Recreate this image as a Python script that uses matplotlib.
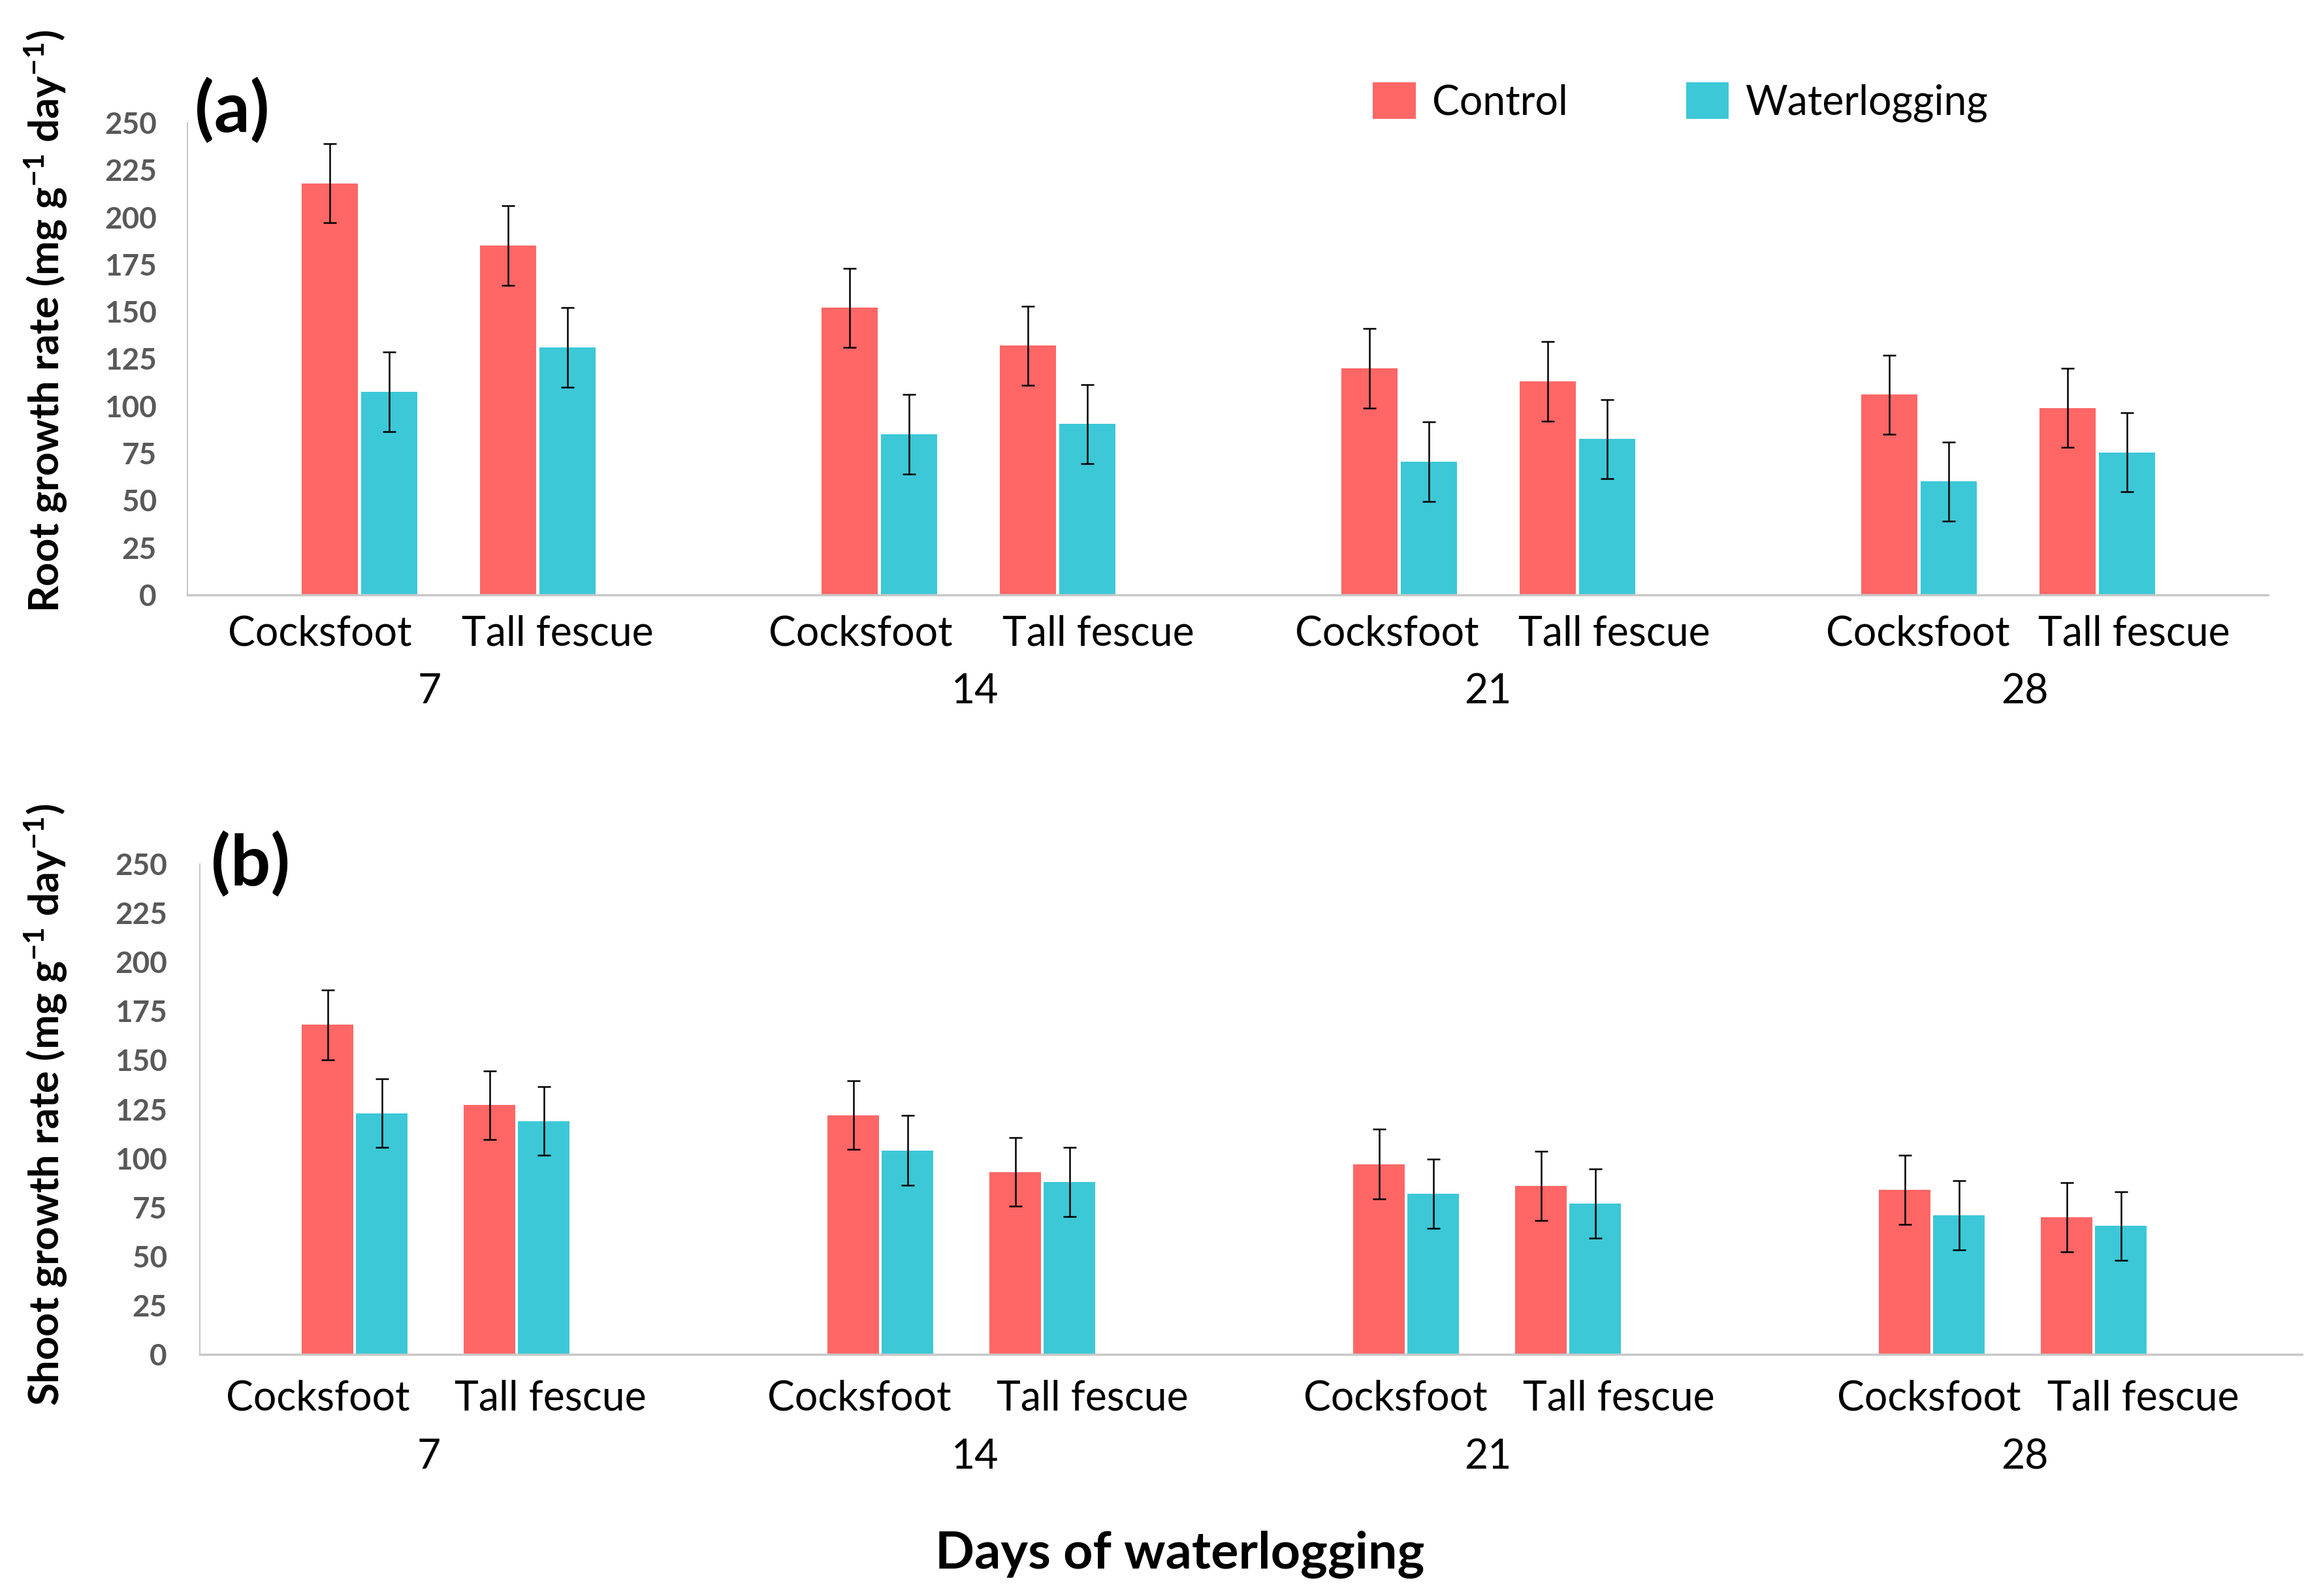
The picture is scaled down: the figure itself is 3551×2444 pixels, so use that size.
import matplotlib
matplotlib.use("Agg")
import matplotlib.pyplot as plt
import matplotlib.transforms as mtransforms
import numpy as np

# ---------------- data ----------------
days = ["7", "14", "21", "28"]
species = ["Cocksfoot", "Tall fescue"]
treatments = ["Control", "Waterlogging"]

# Root growth rate (mg g-1 day-1), per day group
root_control_cocksfoot = [218, 152, 120, 106]
root_control_tallfescue = [185, 132, 113, 99]
root_wl_cocksfoot = [107.5, 85, 70.5, 60]
root_wl_tallfescue = [131, 90.5, 82.5, 75.5]
root_err_control_cocksfoot = [21, 21, 21, 21]
root_err_control_tallfescue = [21, 21, 21, 21]
root_err_wl_cocksfoot = [21, 21, 21, 21]
root_err_wl_tallfescue = [21, 21, 21, 21]

# Shoot growth rate (mg g-1 day-1)
shoot_control_cocksfoot = [168, 122, 97, 84]
shoot_control_tallfescue = [127, 93, 86, 70]
shoot_wl_cocksfoot = [123, 104, 82, 71]
shoot_wl_tallfescue = [119, 88, 77, 65.5]
shoot_err_control_cocksfoot = [17.8, 17.6, 17.7, 17.6]
shoot_err_control_tallfescue = [17.6, 17.5, 17.6, 17.7]
shoot_err_wl_cocksfoot = [17.6, 17.7, 17.7, 17.7]
shoot_err_wl_tallfescue = [17.6, 17.6, 17.7, 17.5]

yticks = [0, 25, 50, 75, 100, 125, 150, 175, 200, 225, 250]

# ---------------- style ----------------
RED = "#FF6666"
CYAN = "#3CC8D7"
GRID_GRAY = "#C8C8C8"
TICK_GRAY = "#595959"
REG = "Lato"

plt.rcParams["mathtext.default"] = "regular"

W, H = 3551, 2444
fig = plt.figure(figsize=(W / 100, H / 100), dpi=100)


def add_ax(l, t, r, b):
    return fig.add_axes([l / W, 1 - b / H, (r - l) / W, (b - t) / H])


def fx(x):
    return x / W


def fy(y):
    return 1 - y / H


def draw_panel(ax, width_px, first, species_gap, group_gap, bar_w, off,
               c_cf, c_tf, w_cf, w_tf, e_c_cf, e_c_tf, e_w_cf, e_w_tf, pad):
    g = np.arange(len(days))
    centers_cf = first + g * group_gap
    centers_tf = first + g * group_gap + species_gap
    centers = np.concatenate([centers_cf, centers_tf])
    ctrl = np.concatenate([c_cf, c_tf])
    wl = np.concatenate([w_cf, w_tf])
    ectrl = np.concatenate([e_c_cf, e_c_tf])
    ewl = np.concatenate([e_w_cf, e_w_tf])
    ekw = dict(ecolor="black", elinewidth=1.8, capsize=7.5, capthick=1.8)
    b1 = ax.bar(centers - off, ctrl, bar_w, color=RED, yerr=ectrl,
                error_kw=ekw, label=treatments[0], zorder=2)
    b2 = ax.bar(centers + off, wl, bar_w, color=CYAN, yerr=ewl,
                error_kw=ekw, label=treatments[1], zorder=2)
    ax.set_xlim(0, width_px)
    ax.set_ylim(0, 250)
    ax.set_yticks(yticks)
    ax.set_xticks([])
    for s in ["top", "right"]:
        ax.spines[s].set_visible(False)
    ax.spines["left"].set_color(GRID_GRAY)
    ax.spines["left"].set_linewidth(1.5)
    ax.spines["bottom"].set_color(GRID_GRAY)
    ax.spines["bottom"].set_linewidth(2.5)
    ax.spines["bottom"].set_zorder(3)
    ax.tick_params(axis="y", length=0, pad=pad, labelsize=33,
                   labelcolor=TICK_GRAY)
    for lab in ax.get_yticklabels():
        lab.set_fontfamily(REG)
        lab.set_fontweight("bold")
    return b1, b2


def cat_labels(ax, ax_left, cf_x, tf_x, day_x, sp_base, day_base):
    tr = mtransforms.blended_transform_factory(ax.transData, fig.transFigure)
    for i in range(len(days)):
        ax.text(cf_x[i] - ax_left, fy(sp_base), species[0], transform=tr,
                ha="center", va="baseline", fontsize=45, family=REG)
        ax.text(tf_x[i] - ax_left, fy(sp_base), species[1], transform=tr,
                ha="center", va="baseline", fontsize=45, family=REG)
        ax.text(day_x[i] - ax_left, fy(day_base), days[i], transform=tr,
                ha="center", va="baseline", fontsize=45, family=REG)


# ---------------- panel (a) ----------------
a_left, a_right, a_top, a_bot = 287, 3473, 188, 911
ax1 = add_ax(a_left, a_top, a_right, a_bot)
b1, b2 = draw_panel(ax1, a_right - a_left, 263, 273, 796, 86, 45.5,
                    root_control_cocksfoot, root_control_tallfescue,
                    root_wl_cocksfoot, root_wl_tallfescue,
                    root_err_control_cocksfoot, root_err_control_tallfescue,
                    root_err_wl_cocksfoot, root_err_wl_tallfescue, 34)
cat_labels(ax1, a_left, [490, 1318, 2124, 2937], [854, 1682, 2472, 3268],
           [658, 1493, 2278, 3100], 989, 1077)

# ---------------- panel (b) ----------------
b_left, b_right, b_top, b_bot = 306, 3525, 1323, 2074
ax2 = add_ax(b_left, b_top, b_right, b_bot)
draw_panel(ax2, b_right - b_left, 237, 248, 805, 79, 41.5,
           shoot_control_cocksfoot, shoot_control_tallfescue,
           shoot_wl_cocksfoot, shoot_wl_tallfescue,
           shoot_err_control_cocksfoot, shoot_err_control_tallfescue,
           shoot_err_wl_cocksfoot, shoot_err_wl_tallfescue, 36)
cat_labels(ax2, b_left, [487, 1316, 2137, 2954], [843, 1673, 2479, 3282],
           [657, 1493, 2278, 3100], 2160, 2249)

# ---------------- texts ----------------
fig.text(fx(70), fy(492), r"Root growth rate (mg g$^{-1}$ day$^{-1}$)",
         rotation=90, ha="center", va="center", fontsize=45.5,
         fontweight="bold", family=REG)
fig.text(fx(70), fy(1692), r"Shoot growth rate (mg g$^{-1}$ day$^{-1}$)",
         rotation=90, ha="center", va="center", fontsize=45.5,
         fontweight="bold", family=REG)
fig.text(fx(298), fy(202), "(a)", ha="left", va="baseline", fontsize=78,
         fontweight="bold", family=REG)
fig.text(fx(323), fy(1356), "(b)", ha="left", va="baseline", fontsize=78,
         fontweight="bold", family=REG)
fig.text(fx(1807), fy(2402), "Days of waterlogging", ha="center",
         va="baseline", fontsize=57, fontweight="bold", family=REG)

# legend
leg = fig.legend(handles=[b1, b2], labels=treatments, loc="upper left",
                 bbox_to_anchor=(fx(2102), fy(126)), ncol=2, frameon=False,
                 prop={"family": REG, "size": 45}, handlelength=1.05,
                 handleheight=1.0, handletextpad=0.4, columnspacing=2.9,
                 borderpad=0, borderaxespad=0)

fig.savefig("out.png", dpi=100, facecolor="white")
